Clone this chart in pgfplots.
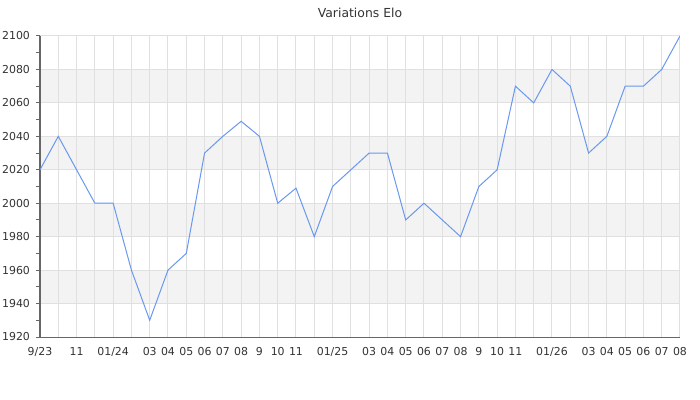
\documentclass[border=0pt]{standalone}
\usepackage{fontspec}
\setmainfont{DejaVu Sans}
\usepackage{pgfplots}
\pgfplotsset{compat=1.18}
\definecolor{axisgray}{HTML}{666666}
\definecolor{gridgray}{HTML}{E0E0E0}
\definecolor{bandgray}{HTML}{F3F3F3}
\definecolor{elo}{HTML}{6A98EE}
\definecolor{txt}{HTML}{333333}

% monthly Elo, 9/23 ... 08/26
\pgfplotstableread{
m elo
0 2020
1 2040
2 2020
3 2000
4 2000
5 1960
6 1930
7 1960
8 1970
9 2030
10 2040
11 2049
12 2040
13 2000
14 2009
15 1980
16 2010
17 2020
18 2030
19 2030
20 1990
21 2000
22 1990
23 1980
24 2010
25 2020
26 2070
27 2060
28 2080
29 2070
30 2030
31 2040
32 2070
33 2070
34 2080
35 2100
}\elotable

\begin{document}
\begin{tikzpicture}
\begin{axis}[
  set layers,
  anchor=south west, at={(0pt,0pt)},
  scale only axis,
  width=480pt, height=225.75pt,
  xmin=0, xmax=35, ymin=1920, ymax=2100,
  xtick={0,...,35},
  xticklabels={9/23,,11,,01/24,,03,04,05,06,07,08,9,10,11,,01/25,,03,04,05,06,07,08,9,10,11,,01/26,,03,04,05,06,07,08},
  ytick={1920,1940,...,2100},
  minor ytick={1930,1950,...,2090},
  /pgf/number format/1000 sep={},
  /pgf/number format/assume math mode=true,
  ticklabel style={font=\fontsize{8.2}{10}\selectfont, text=txt},
  xtick style={draw=none},
  ytick style={draw=axisgray, line width=0.75pt},
  minor tick style={draw=axisgray, line width=0.75pt},
  tick align=outside,
  major tick length=3pt, minor tick length=3pt,
  xmajorgrids, ymajorgrids,
  major grid style={draw=gridgray, line width=0.75pt},
  axis x line*=bottom, axis y line*=left,
  axis line style={draw=axisgray, line width=0.75pt, -},
  xticklabel style={yshift=-1pt},
  yticklabel style={xshift=-1pt},
  title={Variations Elo},
  title style={font=\fontsize{9.3}{11}\selectfont, text=txt, yshift=4pt},
]
\begin{pgfonlayer}{axis background}
\fill[bandgray] (axis cs:0,1940) rectangle (axis cs:35,1960);
\fill[bandgray] (axis cs:0,1980) rectangle (axis cs:35,2000);
\fill[bandgray] (axis cs:0,2020) rectangle (axis cs:35,2040);
\fill[bandgray] (axis cs:0,2060) rectangle (axis cs:35,2080);
\end{pgfonlayer}
\addplot[elo, line width=0.75pt, mark=none] table[x=m, y=elo] {\elotable};
\end{axis}
\pgfresetboundingbox
\path (-30pt,-47.25pt) rectangle (495pt,252.75pt);
\end{tikzpicture}
\end{document}
